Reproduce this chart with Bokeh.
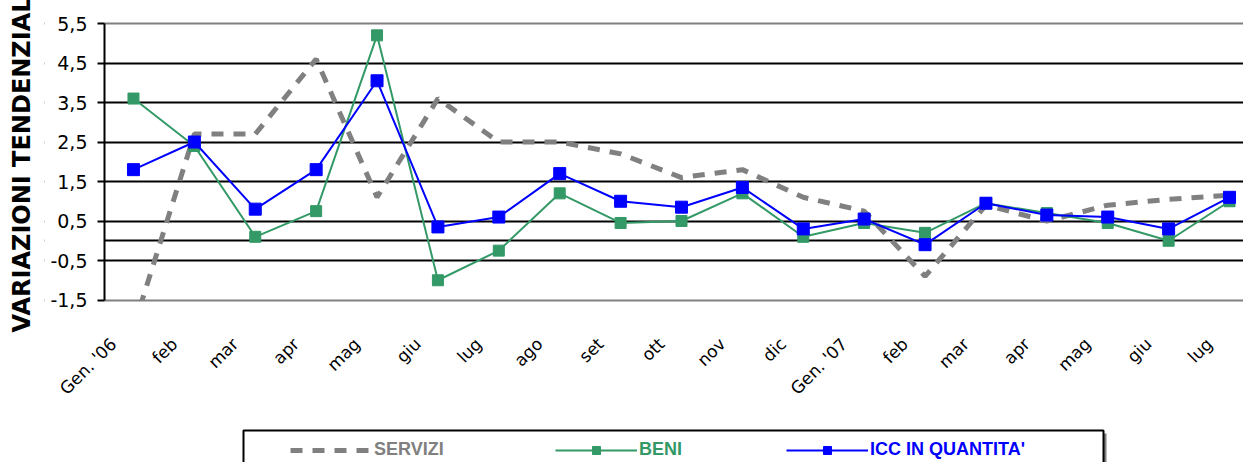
import math
from bokeh.plotting import figure
from bokeh.models import (Range1d, FixedTicker, LinearAxis, Grid, Legend, LegendItem,
                          BoxAnnotation, CustomJSTickFormatter, ColumnDataSource, Title)
from bokeh.embed import file_html
from bokeh.resources import INLINE

# ---------------- data ----------------
months = ["Gen. '06", "feb", "mar", "apr", "mag", "giu", "lug", "ago", "set", "ott",
          "nov", "dic", "Gen. '07", "feb", "mar", "apr", "mag", "giu", "lug"]
servizi = [-2.2, 2.7, 2.7, 4.6, 1.1, 3.6, 2.5, 2.5, 2.2, 1.6,
           1.8, 1.1, 0.75, -0.9, 0.9, 0.5, 0.9, 1.05, 1.15]
beni = [3.6, 2.4, 0.1, 0.75, 5.2, -1.0, -0.25, 1.2, 0.45, 0.5,
        1.2, 0.1, 0.45, 0.2, 0.95, 0.7, 0.45, 0.0, 1.0]
icc = [1.8, 2.5, 0.8, 1.8, 4.05, 0.35, 0.6, 1.7, 1.0, 0.85,
       1.35, 0.3, 0.55, -0.1, 0.95, 0.65, 0.6, 0.3, 1.1]
y_ticks = [-1.5, -0.5, 0.5, 1.5, 2.5, 3.5, 4.5, 5.5]
grid_ticks = [-0.5, 0.0, 0.5, 1.5, 2.5, 3.5, 4.5]
series_names = ["SERVIZI", "BENI", "ICC IN QUANTITA'"]
y_title = "VARIAZIONI TENDENZIALI"

xs = list(range(len(months)))
src = ColumnDataSource(dict(x=xs, servizi=servizi, beni=beni, icc=icc))

C_SERV = "#808080"
C_BENI = "#339966"
C_ICC = "#0000FF"

# ---------------- layout ----------------
W, H = 1243, 462
PANEL_LEFT = 44                   # room for the vertical title
AXIS_X, PLOT_TOP = 104, 23        # y-axis line / top of plot area (px)
PX_X, PX_Y = 60.89, 39.5          # pixels per category / per unit
x_start = -0.476                  # data x at the y-axis line
x_lo = x_start - (AXIS_X - PANEL_LEFT) / PX_X
x_hi = x_start + (W - AXIS_X) / PX_X
y_hi = y_ticks[-1] + PLOT_TOP / PX_Y
y_lo = y_ticks[-1] - (H - PLOT_TOP) / PX_Y
lbl_shift = 0.33

p = figure(width=W, height=H, output_backend="svg", toolbar_location=None,
           x_range=Range1d(x_lo, x_hi), y_range=Range1d(y_lo, y_hi),
           x_axis_location=None,
           min_border_left=PANEL_LEFT, min_border_right=0,
           min_border_top=0, min_border_bottom=0,
           background_fill_color="white", border_fill_color="white",
           outline_line_color=None)

# black grid lines
p.xgrid.visible = False
p.ygrid.ticker = FixedTicker(ticks=grid_ticks)
p.ygrid.grid_line_color = "black"
p.ygrid.grid_line_width = 2

# y axis, drawn at the left edge of the plot area
ya = p.yaxis[0]
ya.fixed_location = x_start
ya.level = "overlay"
ya.ticker = FixedTicker(ticks=y_ticks)
ya.bounds = (y_ticks[0], y_ticks[-1])
ya.formatter = CustomJSTickFormatter(code="return tick.toFixed(1).replace('.', ',');")
ya.axis_line_color = "black"
ya.axis_line_width = 2
ya.major_tick_line_color = "black"
ya.major_tick_line_width = 2
ya.major_tick_out = 7
ya.major_tick_in = 0
ya.minor_tick_line_color = None
ya.major_label_standoff = 10
ya.major_label_text_font = "DejaVu Sans"
ya.major_label_text_font_size = "19px"
ya.major_label_text_color = "black"

# vertical axis title
p.add_layout(Title(text=y_title, align="left", offset=130, vertical_align="top",
                   standoff=14, text_font="DejaVu Sans", text_font_size="24px",
                   text_font_style="bold", text_color="black"), "left")

# series
r_s = p.line("x", "servizi", source=src, line_color=C_SERV, line_width=5,
             line_dash="12 10")
r_b = p.line("x", "beni", source=src, line_color=C_BENI, line_width=2)
m_b = p.scatter("x", "beni", source=src, marker="square", size=11,
                fill_color=C_BENI, line_color=C_BENI)
r_i = p.line("x", "icc", source=src, line_color=C_ICC, line_width=2)
m_i = p.scatter("x", "icc", source=src, marker="square", size=12,
                fill_color=C_ICC, line_color=C_ICC)

# white area under the plot area (values below -1,5 are cut there)
p.add_layout(BoxAnnotation(left=x_start, top=y_ticks[0], fill_color="white",
                           fill_alpha=1, line_color=None, level="annotation"))
# plot-area top / bottom edges
p.add_layout(Grid(dimension=1, ticker=FixedTicker(ticks=[y_ticks[0], y_ticks[-1]]),
                  grid_line_color="#808080", grid_line_width=2, level="annotation"),
             "center")
# white area left of the y axis (tick-label zone)
p.add_layout(BoxAnnotation(right=x_start, fill_color="white", fill_alpha=1,
                           line_color=None, level="annotation"))

# category axis (labels at 45 degrees under the plot area)
p.extra_x_ranges = {"lbl": Range1d(x_lo + lbl_shift, x_hi + lbl_shift)}
xa = LinearAxis(x_range_name="lbl", ticker=FixedTicker(ticks=xs),
                fixed_location=y_ticks[0], level="overlay",
                major_label_overrides={i: m for i, m in enumerate(months)},
                axis_line_color=None, major_tick_line_color=None,
                minor_tick_line_color=None, major_tick_out=0, major_tick_in=0,
                major_label_orientation=math.pi / 4, major_label_standoff=41,
                major_label_text_font="DejaVu Sans", major_label_text_font_size="17px",
                major_label_text_color="black")
p.add_layout(xa, "below")

# legend box (screen px from the plot-area bottom-left corner)
bx0 = 243 - PANEL_LEFT
bx1 = 1103 - PANEL_LEFT
shadow = BoxAnnotation(left=bx0 + 3, right=bx1 + 3, top=29, bottom=-40,
                       left_units="screen", right_units="screen",
                       top_units="screen", bottom_units="screen",
                       fill_color="#808080", fill_alpha=1, line_color=None)
box = BoxAnnotation(left=bx0, right=bx1, top=32, bottom=-40,
                    left_units="screen", right_units="screen",
                    top_units="screen", bottom_units="screen",
                    fill_color="white", fill_alpha=1, line_color="black", line_width=2,
                    line_alpha=1)
p.add_layout(shadow)
p.add_layout(box)

entries = [(series_names[0], [r_s], C_SERV, 290 - PANEL_LEFT),
           (series_names[1], [r_b, m_b], C_BENI, 555 - PANEL_LEFT),
           (series_names[2], [r_i, m_i], C_ICC, 786 - PANEL_LEFT)]
for name, rends, col, vx in entries:
    lg = Legend(items=[LegendItem(label=name, renderers=rends)],
                location=(vx, 2), orientation="horizontal",
                padding=0, margin=0, spacing=0,
                border_line_color=None, background_fill_alpha=0,
                glyph_width=82, glyph_height=20, label_standoff=2,
                label_height=20,
                label_text_font="Liberation Sans", label_text_font_style="bold",
                label_text_font_size="18px", label_text_color=col)
    p.add_layout(lg, "center")

open("out.html", "w").write(file_html(p, INLINE))
